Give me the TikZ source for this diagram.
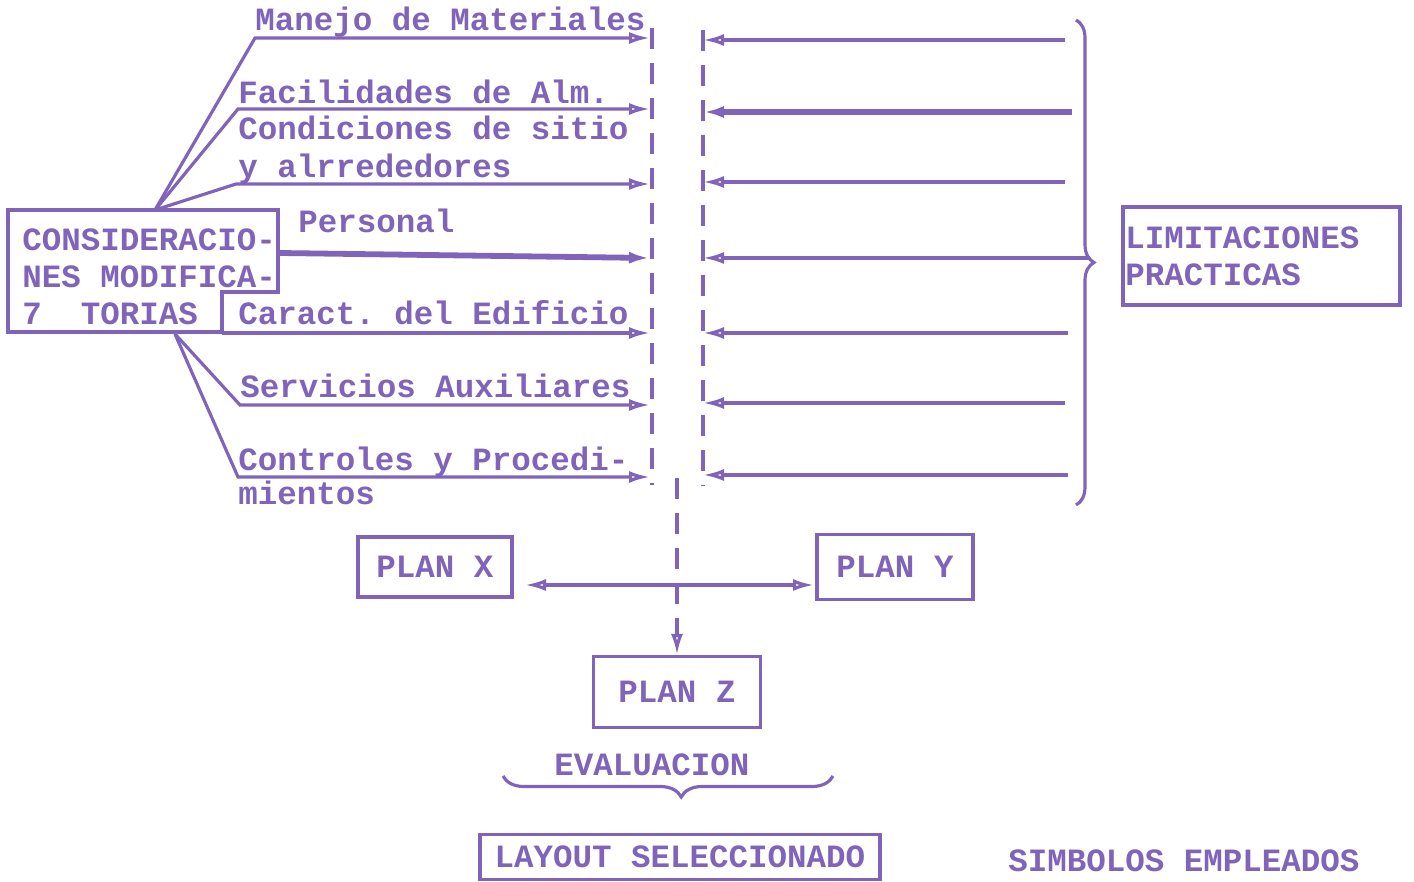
\documentclass[tikz,border=0pt]{standalone}
\usepackage{fontspec}
\setmainfont{Liberation Mono}
\usetikzlibrary{arrows.meta,decorations.pathreplacing}
\definecolor{ink}{RGB}{128,100,186}
\frenchspacing
\begin{document}
\begin{tikzpicture}[x=0.02cm,y=-0.02cm,
  every node/.style={text=ink,font=\fontsize{18.5}{22}\selectfont\bfseries},
  txt/.style={anchor=base west,inner sep=0pt},
  ln/.style={draw=ink,line width=1.8pt},
  heavy/.style={draw=ink,line width=3.3pt},
  bx/.style={draw=ink,line width=1.8pt,inner sep=0pt},
  dsh/.style={draw=ink,line width=1.8pt,dash pattern=on 0.42cm off 0.28cm},
  tip/.tip={Latex[open,length=0.42cm,width=0.24cm]}]
\fill[white] (0,0) rectangle (1414,882);
\useasboundingbox (0,0) rectangle (1414,882);
% left texts
\node[txt] (tman) at (255,31) {Manejo de Materiales};
\node[txt] (tfac) at (238,104) {Facilidades de Alm.};
\node[txt] (tcon) at (238,140) {Condiciones de sitio};
\node[txt] (talr) at (238,177) {y alrrededores};
\node[txt] (tper) at (298,233) {Personal};
\node[txt] (tcar) at (238,324) {Caract. del Edificio};
\node[txt] (tser) at (240,397) {Servicios Auxiliares};
\node[txt] (tctl) at (238,470) {Controles y Procedi-};
\node[txt] (tmie) at (238,504) {mientos};
% considerations box
\draw[bx] (222,332) -- (8,332) -- (8,210) -- (278,210) -- (278,292) -- (222,292) -- cycle;
\node[txt] (c1) at (22,250) {CONSIDERACIO-};
\node[txt] (c2) at (22,287) {NES MODIFICA-};
\node[txt] (c3) at (22,324) {7\ \ TORIAS};
% fan coordinates
\coordinate (ft) at (155,210);
\coordinate (fb) at (175,334);
\coordinate (ms) at (255,38);  \coordinate (me) at (650,38);
\coordinate (fs) at (238,109); \coordinate (fe) at (650,109);
\coordinate (as) at (236,184); \coordinate (ae) at (650,184);
\coordinate (ps) at (280,253); \coordinate (pe) at (650,258);
\coordinate (cs) at (222,333); \coordinate (ce) at (650,333);
\coordinate (ss) at (240,405); \coordinate (se) at (650,405);
\coordinate (ks) at (238,477); \coordinate (ke) at (650,477);
\draw[ln,-{tip}] (ft) -- (ms) -- (me);
\draw[ln,-{tip}] (ft) -- (fs) -- (fe);
\draw[ln,-{tip}] (ft) -- (as) -- (ae);
\draw[heavy,-{tip}] (ps) -- (pe);
\draw[ln,-{tip}] (cs) -- (ce);
\draw[ln,-{tip}] (fb) -- (ss) -- (se);
\draw[ln,-{tip}] (fb) -- (ks) -- (ke);
% dashed verticals
\coordinate (dl1) at (652,28);  \coordinate (dl2) at (652,485);
\coordinate (dr1) at (703,30);  \coordinate (dr2) at (703,485);
\draw[dsh] (dl1) -- (dl2);
\draw[dsh] (dr1) -- (dr2);
% right arrows
\coordinate (r1s) at (1065,40);  \coordinate (r1e) at (703,40);
\coordinate (r2s) at (1072,112); \coordinate (r2e) at (703,112);
\coordinate (r3s) at (1065,182); \coordinate (r3e) at (703,182);
\coordinate (r4s) at (1090,258); \coordinate (r4e) at (703,258);
\coordinate (r5s) at (1068,333); \coordinate (r5e) at (703,333);
\coordinate (r6s) at (1065,403); \coordinate (r6e) at (703,403);
\coordinate (r7s) at (1068,475); \coordinate (r7e) at (703,475);
\draw[ln,-{tip}] (r1s) -- (r1e);
\draw[heavy,-{tip}] (r2s) -- (r2e);
\draw[ln,-{tip}] (r3s) -- (r3e);
\draw[ln,-{tip}] (r4s) -- (r4e);
\draw[ln,-{tip}] (r5s) -- (r5e);
\draw[ln,-{tip}] (r6s) -- (r6e);
\draw[ln,-{tip}] (r7s) -- (r7e);
% brace
\coordinate (b1) at (1076,20); \coordinate (b2) at (1076,505);
\draw[ln,decorate,decoration={brace,amplitude=0.36cm}] (b1) -- (b2);
% limitaciones box
\node[bx,minimum width=5.54cm,minimum height=1.96cm] (lim) at (1261.5,256) {};
\node[txt] (l1) at (1125,248) {LIMITACIONES};
\node[txt] (l2) at (1125,285) {PRACTICAS};
% plans
\node[bx,minimum width=3.08cm,minimum height=1.2cm] (px) at (435,567) {PLAN X};
\node[bx,minimum width=3.12cm,minimum height=1.3cm] (py) at (895,567) {PLAN Y};
\node[bx,minimum width=3.34cm,minimum height=1.42cm] (pz) at (677,692) {PLAN Z};
\coordinate (xa) at (525,585); \coordinate (ya) at (814,585);
\draw[ln,{tip}-{tip}] (xa) -- (ya);
\coordinate (dc) at (677,478);
\draw[dsh,-{tip}] (dc) -- (pz.north);
% evaluation
\node (ev) at (652,765) {EVALUACION};
\coordinate (e1) at (503,776); \coordinate (e2) at (833,776);
\draw[ln,decorate,decoration={brace,amplitude=0.42cm,mirror,aspect=0.54}] (e1) -- (e2);
\node[bx,minimum width=8cm,minimum height=0.9cm] (lay) at (680,857) {LAYOUT SELECCIONADO};
\node[txt] (sim) at (1008,871) {SIMBOLOS EMPLEADOS};
\end{tikzpicture}
\end{document}
